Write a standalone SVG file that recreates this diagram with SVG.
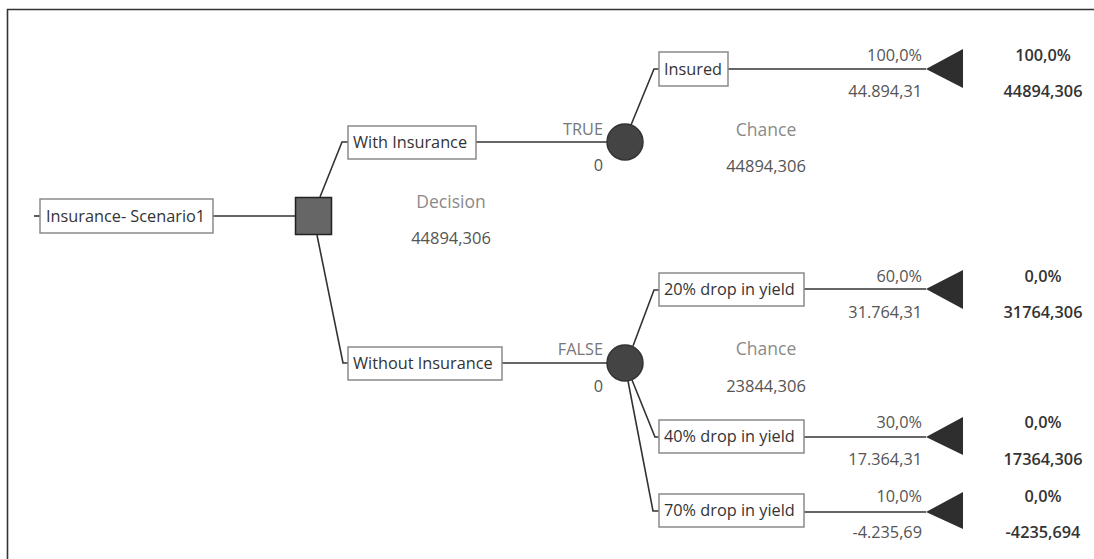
<svg xmlns="http://www.w3.org/2000/svg" width="1094" height="559" viewBox="0 0 1094 559">
<defs>
<style>
text{font-family:"Open Sans","Noto Sans","DejaVu Sans",sans-serif;font-size:16.3px;}
.box{fill:#fff;stroke:#8a8a8a;stroke-width:1.5;}
.lbl{fill:#333;}
.con{fill:none;stroke:#333;stroke-width:1.6;}
.cap{fill:#8a8a8a;text-anchor:middle;font-size:17.5px;}
.val{fill:#555;text-anchor:middle;font-size:16.5px;}
.num{fill:#555;text-anchor:end;}
.res{fill:#333;text-anchor:middle;font-weight:600;}
.tri{fill:#2e2e2e;}
.chance{fill:#444;stroke:#333;stroke-width:1.5;}
</style>
</defs>
<rect x="0" y="0" width="1094" height="559" fill="#fff"/>
<path d="M7.5,559 V9.5 H1094" fill="none" stroke="#333" stroke-width="1.6"/>

<g id="connectors">
<path class="con" d="M34,216 H40"/>
<path class="con" d="M213,216 H296"/>
<path class="con" d="M320,197 L342,142 H348"/>
<path class="con" d="M317,235 L343,363 H348"/>
<path class="con" d="M476,142 H607"/>
<path class="con" d="M502,363 H607"/>
<path class="con" d="M631,125 L654,69 H659"/>
<path class="con" d="M728,69 H926"/>
<path class="con" d="M633,346 L654,290 H659"/>
<path class="con" d="M804,289 H926"/>
<path class="con" d="M632,380 L655,437 H659"/>
<path class="con" d="M804,437 H926"/>
<path class="con" d="M628,381 L653,511 H659"/>
<path class="con" d="M804,512 H926"/>
</g>

<g id="root">
<rect class="box" x="40" y="199" width="173" height="34"/>
<text class="lbl" x="46" y="222">Insurance- Scenario1</text>
</g>

<g id="decision">
<rect x="295.5" y="197.5" width="36" height="37" fill="#666" stroke="#222" stroke-width="1.5"/>
<text class="cap" x="451" y="208">Decision</text>
<text class="val" x="451" y="244">44894,306</text>
</g>

<g id="with-insurance">
<rect class="box" x="348" y="126" width="128" height="33"/>
<text class="lbl" x="353" y="148">With Insurance</text>
<text class="num" x="603" y="135" style="fill:#777">TRUE</text>
<text class="num" x="603" y="171">0</text>
</g>

<g id="without-insurance">
<rect class="box" x="348" y="347" width="154" height="33"/>
<text class="lbl" x="353" y="369">Without Insurance</text>
<text class="num" x="603" y="355" style="fill:#777">FALSE</text>
<text class="num" x="603" y="392">0</text>
</g>

<g id="chance-1">
<circle class="chance" cx="625" cy="142" r="18"/>
<text class="cap" x="766" y="136">Chance</text>
<text class="val" x="766" y="172">44894,306</text>
</g>

<g id="chance-2">
<circle class="chance" cx="625" cy="363" r="18"/>
<text class="cap" x="766" y="355">Chance</text>
<text class="val" x="766" y="392">23844,306</text>
</g>

<g id="insured">
<rect class="box" x="659" y="52" width="69" height="34"/>
<text class="lbl" x="664" y="75">Insured</text>
<text class="num" x="922" y="61">100,0%</text>
<text class="num" x="922" y="97">44.894,31</text>
</g>
<g id="end-insured">
<polygon class="tri" points="926,69 963,49 963,88"/>
<text class="res" x="1043" y="61">100,0%</text>
<text class="res" x="1043" y="97">44894,306</text>
</g>

<g id="drop-20">
<rect class="box" x="659" y="273" width="145" height="33"/>
<text class="lbl" x="664" y="295">20% drop in yield</text>
<text class="num" x="922" y="282">60,0%</text>
<text class="num" x="922" y="318">31.764,31</text>
</g>
<g id="end-20">
<polygon class="tri" points="926,289 963,270 963,309"/>
<text class="res" x="1043" y="282">0,0%</text>
<text class="res" x="1043" y="318">31764,306</text>
</g>

<g id="drop-40">
<rect class="box" x="659" y="420" width="145" height="33"/>
<text class="lbl" x="664" y="442">40% drop in yield</text>
<text class="num" x="922" y="428">30,0%</text>
<text class="num" x="922" y="465">17.364,31</text>
</g>
<g id="end-40">
<polygon class="tri" points="926,437 963,417 963,455"/>
<text class="res" x="1043" y="428">0,0%</text>
<text class="res" x="1043" y="465">17364,306</text>
</g>

<g id="drop-70">
<rect class="box" x="659" y="494" width="145" height="33"/>
<text class="lbl" x="664" y="516">70% drop in yield</text>
<text class="num" x="922" y="502">10,0%</text>
<text class="num" x="922" y="538">-4.235,69</text>
</g>
<g id="end-70">
<polygon class="tri" points="926,512 963,492 963,529"/>
<text class="res" x="1043" y="502">0,0%</text>
<text class="res" x="1043" y="538">-4235,694</text>
</g>
</svg>
